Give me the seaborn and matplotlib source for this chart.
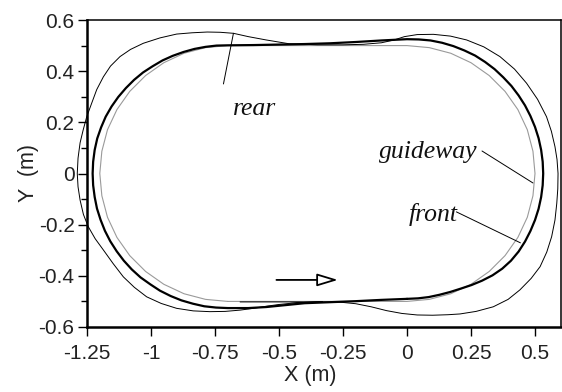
import matplotlib
matplotlib.use("Agg")
import matplotlib.pyplot as plt
import seaborn as sns

# Guideway centre line (m), closed loop
guideway = [(-0.7, -0.5), (0.0, -0.5), (0.087, -0.492), (0.171, -0.47), (0.25, -0.433),
            (0.321, -0.383), (0.383, -0.321), (0.433, -0.25), (0.47, -0.171), (0.492, -0.087),
            (0.5, 0.0), (0.492, 0.087), (0.47, 0.171), (0.433, 0.25), (0.383, 0.321),
            (0.321, 0.383), (0.25, 0.433), (0.171, 0.47), (0.087, 0.492), (0.0, 0.5),
            (-0.7, 0.5), (-0.787, 0.492), (-0.871, 0.47), (-0.95, 0.433), (-1.021, 0.383),
            (-1.083, 0.321), (-1.133, 0.25), (-1.17, 0.171), (-1.192, 0.087), (-1.2, 0.0),
            (-1.192, -0.087), (-1.17, -0.171), (-1.133, -0.25), (-1.083, -0.321),
            (-1.021, -0.383), (-0.95, -0.433), (-0.871, -0.47), (-0.787, -0.492), (-0.7, -0.5)]

# Path traced by the front of the vehicle (m)
front = [(0.0, -0.49), (0.043, -0.488), (0.085, -0.483), (0.127, -0.474), (0.169, -0.463),
         (0.21, -0.45), (0.252, -0.436), (0.293, -0.419), (0.334, -0.398), (0.372, -0.372),
         (0.406, -0.341), (0.436, -0.305), (0.461, -0.266), (0.482, -0.225), (0.5, -0.182),
         (0.514, -0.138), (0.524, -0.092), (0.53, -0.046), (0.532, 0.0), (0.53, 0.046),
         (0.524, 0.092), (0.514, 0.138), (0.5, 0.182), (0.482, 0.225), (0.461, 0.266),
         (0.436, 0.305), (0.408, 0.342), (0.376, 0.376), (0.342, 0.408), (0.305, 0.436),
         (0.266, 0.461), (0.224, 0.481), (0.181, 0.498), (0.137, 0.511), (0.092, 0.52),
         (0.046, 0.524), (0.0, 0.525), (-0.1, 0.52), (-0.2, 0.514), (-0.3, 0.509),
         (-0.4, 0.506), (-0.5, 0.504), (-0.6, 0.502), (-0.7, 0.501), (-0.744, 0.5),
         (-0.787, 0.495), (-0.83, 0.487), (-0.873, 0.475), (-0.915, 0.46), (-0.955, 0.442),
         (-0.994, 0.419), (-1.031, 0.395), (-1.066, 0.366), (-1.098, 0.334), (-1.128, 0.299),
         (-1.154, 0.262), (-1.177, 0.222), (-1.195, 0.18), (-1.21, 0.137), (-1.22, 0.092),
         (-1.226, 0.046), (-1.228, 0.0), (-1.226, -0.046), (-1.22, -0.092), (-1.211, -0.137),
         (-1.197, -0.181), (-1.18, -0.224), (-1.159, -0.265), (-1.134, -0.304),
         (-1.106, -0.341), (-1.075, -0.375), (-1.041, -0.406), (-1.003, -0.433),
         (-0.965, -0.458), (-0.923, -0.479), (-0.881, -0.496), (-0.836, -0.509),
         (-0.792, -0.519), (-0.746, -0.524), (-0.7, -0.526), (-0.62, -0.526), (-0.55, -0.522),
         (-0.47, -0.514), (-0.4, -0.507), (-0.3, -0.503), (-0.2, -0.499), (-0.1, -0.494),
         (0.0, -0.49)]

# Path traced by the rear of the vehicle (m)
rear = [(-0.652, -0.502), (-0.55, -0.502), (-0.45, -0.502), (-0.35, -0.502), (-0.26, -0.503),
        (-0.2, -0.509), (-0.14, -0.521), (-0.08, -0.536), (-0.02, -0.547), (0.04, -0.553),
        (0.1, -0.554), (0.16, -0.552), (0.207, -0.549), (0.27, -0.539), (0.337, -0.521),
        (0.395, -0.492), (0.441, -0.455), (0.485, -0.41), (0.52, -0.364), (0.546, -0.307),
        (0.565, -0.247), (0.578, -0.182), (0.585, -0.117), (0.589, -0.06), (0.59, 0.0),
        (0.586, 0.055), (0.578, 0.105), (0.564, 0.165), (0.545, 0.222), (0.51, 0.29),
        (0.467, 0.353), (0.42, 0.408), (0.363, 0.457), (0.3, 0.495), (0.233, 0.522),
        (0.17, 0.537), (0.103, 0.544), (0.04, 0.543), (-0.01, 0.535), (-0.05, 0.522),
        (-0.1, 0.511), (-0.17, 0.505), (-0.25, 0.503), (-0.35, 0.503), (-0.46, 0.507),
        (-0.55, 0.522), (-0.62, 0.535), (-0.678, 0.548), (-0.73, 0.552), (-0.78, 0.553),
        (-0.84, 0.55), (-0.9, 0.545), (-0.965, 0.53), (-1.03, 0.509), (-1.08, 0.485),
        (-1.121, 0.457), (-1.158, 0.42), (-1.186, 0.378), (-1.212, 0.328), (-1.232, 0.274),
        (-1.251, 0.222), (-1.265, 0.17), (-1.277, 0.12), (-1.285, 0.06), (-1.288, 0.0),
        (-1.285, -0.052), (-1.277, -0.104), (-1.264, -0.16), (-1.245, -0.208),
        (-1.218, -0.255), (-1.186, -0.299), (-1.148, -0.352), (-1.108, -0.404),
        (-1.065, -0.445), (-1.017, -0.482), (-0.96, -0.508), (-0.9, -0.527),
        (-0.835, -0.537), (-0.77, -0.54), (-0.71, -0.539), (-0.652, -0.534), (-0.6, -0.527),
        (-0.55, -0.519), (-0.5, -0.512), (-0.45, -0.507), (-0.4, -0.504), (-0.33, -0.502)]

x_ticks = [-1.25, -1.0, -0.75, -0.5, -0.25, 0.0, 0.25, 0.5]
x_tick_labels = ["-1.25", "-1", "-0.75", "-0.5", "-0.25", "0", "0.25", "0.5"]
y_ticks = [-0.6, -0.4, -0.2, 0.0, 0.2, 0.4, 0.6]
y_tick_labels = ["-0.6", "-0.4", "-0.2", "0", "0.2", "0.4", "0.6"]
y_minor_ticks = [-0.5, -0.3, -0.1, 0.1, 0.3, 0.5]

sns.set_theme(style="ticks")
plt.rcParams["font.family"] = ["Liberation Sans", "DejaVu Sans"]
serif_italic = dict(family=["Liberation Serif", "DejaVu Serif"], style="italic", size=18.5)

fig = plt.figure(figsize=(5.62, 3.92), dpi=100)
ax = fig.add_axes([87 / 562, 65 / 392, 473.6 / 562, 307 / 392])


def xs(pts):
    return [p[0] for p in pts]


def ys(pts):
    return [p[1] for p in pts]


sns.lineplot(x=xs(guideway), y=ys(guideway), sort=False, estimator=None,
             color="#9a9a9a", lw=0.8, ax=ax)
sns.lineplot(x=xs(front), y=ys(front), sort=False, estimator=None,
             color="black", lw=1.6, ax=ax)
sns.lineplot(x=xs(rear), y=ys(rear), sort=False, estimator=None,
             color="black", lw=0.7, clip_on=False, ax=ax)

ax.set_xlim(-1.25, 0.6)
ax.set_ylim(-0.6, 0.6)
ax.set_xticks(x_ticks)
ax.set_xticklabels(x_tick_labels)
ax.set_yticks(y_ticks)
ax.set_yticklabels(y_tick_labels)
ax.set_yticks(y_minor_ticks, minor=True)

ax.tick_params(axis="both", which="major", direction="out", length=6.5, width=1.0,
               color="black", labelsize=15, labelcolor="#222222")
ax.tick_params(axis="x", which="major", pad=5.5)
ax.tick_params(axis="y", which="major", pad=2.5)
ax.tick_params(axis="y", which="minor", direction="out", length=4, width=1.0, color="black")

for side in ("left", "bottom"):
    ax.spines[side].set_linewidth(1.8)
for side in ("top", "right"):
    ax.spines[side].set_linewidth(1.1)
for sp in ax.spines.values():
    sp.set_color("black")

ax.set_xlabel("X (m)", fontsize=15.5, color="#222222")
ax.set_ylabel("Y  (m)", fontsize=15.5, color="#222222")
ax.xaxis.set_label_coords(0.471, -0.125)
ax.yaxis.set_label_coords(-0.101, 0.5)

# curve labels with leader lines
ax.text(-0.68, 0.229, "rear", ha="left", va="baseline", color="#111111", **serif_italic)
ax.annotate("", xy=(-0.678, 0.548), xytext=(-0.717, 0.35),
            arrowprops=dict(arrowstyle="-", lw=0.7, color="black", shrinkA=0, shrinkB=0))
ax.text(-0.109, 0.06, "guideway", ha="left", va="baseline", color="#111111", **serif_italic)
ax.annotate("", xy=(0.492, -0.037), xytext=(0.293, 0.088),
            arrowprops=dict(arrowstyle="-", lw=0.7, color="black", shrinkA=0, shrinkB=0))
ax.text(0.008, -0.186, "front", ha="left", va="baseline", color="#111111", **serif_italic)
ax.annotate("", xy=(0.443, -0.271), xytext=(0.193, -0.15),
            arrowprops=dict(arrowstyle="-", lw=0.7, color="black", shrinkA=0, shrinkB=0))

# direction of travel
ax.annotate("", xy=(-0.27, -0.416), xytext=(-0.51, -0.416),
            arrowprops=dict(arrowstyle="-|>,head_length=1.27,head_width=0.385",
                            mutation_scale=10, fc="white", ec="black", lw=1.3,
                            shrinkA=0, shrinkB=0))

fig.savefig("out.png", dpi=100)
